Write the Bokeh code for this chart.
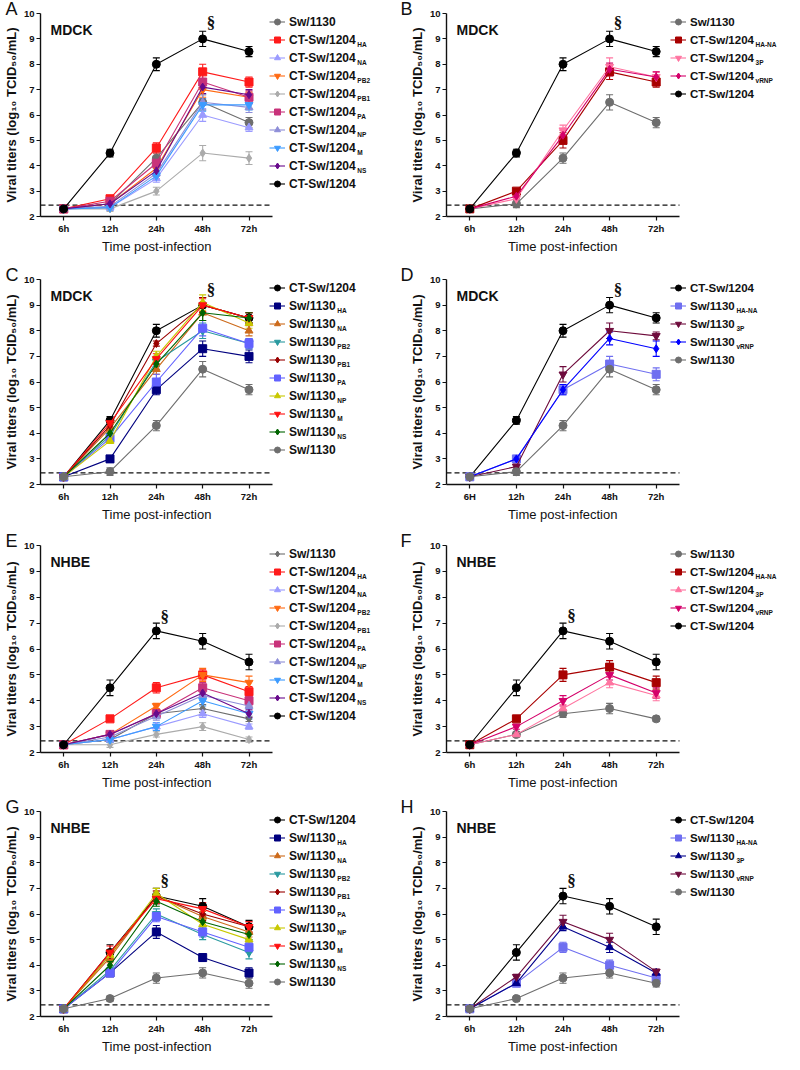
from bokeh.plotting import figure
from bokeh.models import (Legend, LegendItem, Label, Whisker, TeeHead, Title,
                          ColumnDataSource, FixedTicker)
from bokeh.layouts import column, row
from bokeh.embed import file_html
from bokeh.resources import INLINE

# ---------------- data ----------------
times = ["6h", "12h", "24h", "48h", "72h"]
times_D = ["6H", "12h", "24h", "48h", "72h"]
y_ticks = [2, 3, 4, 5, 6, 7, 8, 9, 10]
detection_limit = 2.45

# Panel A (MDCK, single-gene CT-Sw/1204 reassortants)
A_base = ["Sw/1130", "CT-Sw/1204", "CT-Sw/1204", "CT-Sw/1204", "CT-Sw/1204",
          "CT-Sw/1204", "CT-Sw/1204", "CT-Sw/1204", "CT-Sw/1204", "CT-Sw/1204"]
A_sub = ["", "HA", "NA", "PB2", "PB1", "PA", "NP", "M", "NS", ""]
A_values = [[2.3, 2.5, 4.3, 6.5, 5.7],
            [2.3, 2.7, 4.7, 7.7, 7.3],
            [2.3, 2.35, 3.5, 6.0, 5.5],
            [2.3, 2.5, 3.9, 7.0, 6.7],
            [2.3, 2.3, 3.0, 4.5, 4.3],
            [2.3, 2.6, 4.1, 7.3, 6.7],
            [2.3, 2.4, 3.7, 6.5, 6.3],
            [2.3, 2.35, 3.6, 6.4, 6.4],
            [2.3, 2.5, 3.8, 7.1, 6.8],
            [2.3, 4.5, 8.0, 9.0, 8.5]]
A_errors = [[0.05, 0.15, 0.2, 0.3, 0.2],
            [0.05, 0.1, 0.2, 0.3, 0.2],
            [0.05, 0.1, 0.15, 0.25, 0.15],
            [0.05, 0.1, 0.2, 0.3, 0.2],
            [0.05, 0.1, 0.15, 0.3, 0.25],
            [0.05, 0.1, 0.2, 0.3, 0.25],
            [0.05, 0.1, 0.2, 0.3, 0.2],
            [0.05, 0.1, 0.15, 0.25, 0.2],
            [0.05, 0.1, 0.2, 0.25, 0.2],
            [0.05, 0.15, 0.25, 0.3, 0.2]]

# Panel B (MDCK, multi-gene CT-Sw/1204 reassortants)
B_base = ["Sw/1130", "CT-Sw/1204", "CT-Sw/1204", "CT-Sw/1204", "CT-Sw/1204"]
B_sub = ["", "HA-NA", "3P", "vRNP", ""]
B_values = [[2.3, 2.5, 4.3, 6.5, 5.7],
            [2.3, 3.0, 5.0, 7.7, 7.3],
            [2.3, 2.7, 5.4, 7.9, 7.5],
            [2.3, 2.8, 5.2, 7.8, 7.5],
            [2.3, 4.5, 8.0, 9.0, 8.5]]
B_errors = [[0.05, 0.15, 0.2, 0.3, 0.2],
            [0.05, 0.1, 0.3, 0.3, 0.2],
            [0.05, 0.1, 0.2, 0.35, 0.2],
            [0.05, 0.1, 0.2, 0.25, 0.2],
            [0.05, 0.15, 0.25, 0.3, 0.2]]

# Panel C (MDCK, single-gene Sw/1130 reassortants)
C_base = ["CT-Sw/1204", "Sw/1130", "Sw/1130", "Sw/1130", "Sw/1130",
          "Sw/1130", "Sw/1130", "Sw/1130", "Sw/1130", "Sw/1130"]
C_sub = ["", "HA", "NA", "PB2", "PB1", "PA", "NP", "M", "NS", ""]
C_values = [[2.3, 4.5, 8.0, 9.0, 8.5],
            [2.3, 3.0, 5.7, 7.3, 7.0],
            [2.3, 4.2, 6.5, 8.7, 8.0],
            [2.3, 3.9, 6.8, 8.0, 7.5],
            [2.3, 4.3, 7.5, 9.0, 8.5],
            [2.3, 3.8, 6.0, 8.1, 7.5],
            [2.3, 3.7, 7.0, 9.1, 8.3],
            [2.3, 4.4, 6.9, 9.0, 8.5],
            [2.3, 4.0, 6.7, 8.7, 8.5],
            [2.3, 2.5, 4.3, 6.5, 5.7]]
C_errors = [[0.05, 0.15, 0.25, 0.3, 0.2],
            [0.05, 0.1, 0.2, 0.3, 0.25],
            [0.05, 0.15, 0.2, 0.3, 0.2],
            [0.05, 0.1, 0.2, 0.3, 0.2],
            [0.05, 0.1, 0.1, 0.3, 0.2],
            [0.05, 0.1, 0.3, 0.3, 0.2],
            [0.05, 0.1, 0.2, 0.3, 0.2],
            [0.05, 0.15, 0.2, 0.25, 0.2],
            [0.05, 0.1, 0.2, 0.3, 0.2],
            [0.05, 0.15, 0.2, 0.3, 0.2]]

# Panel D (MDCK, multi-gene Sw/1130 reassortants)
D_base = ["CT-Sw/1204", "Sw/1130", "Sw/1130", "Sw/1130", "Sw/1130"]
D_sub = ["", "HA-NA", "3P", "vRNP", ""]
D_values = [[2.3, 4.5, 8.0, 9.0, 8.5],
            [2.3, 3.0, 5.7, 6.7, 6.3],
            [2.3, 2.7, 6.3, 8.0, 7.8],
            [2.3, 3.0, 5.7, 7.7, 7.3],
            [2.3, 2.5, 4.3, 6.5, 5.7]]
D_errors = [[0.05, 0.15, 0.25, 0.3, 0.2],
            [0.05, 0.1, 0.2, 0.3, 0.25],
            [0.05, 0.1, 0.3, 0.3, 0.15],
            [0.05, 0.1, 0.2, 0.25, 0.3],
            [0.05, 0.15, 0.2, 0.3, 0.2]]

# Panel E (NHBE, single-gene CT-Sw/1204 reassortants)
E_base = A_base
E_sub = A_sub
E_values = [[2.3, 2.5, 3.5, 3.7, 3.3],
            [2.3, 3.3, 4.5, 5.0, 4.35],
            [2.3, 2.5, 3.0, 3.5, 3.0],
            [2.3, 2.7, 3.8, 5.0, 4.7],
            [2.3, 2.3, 2.7, 3.0, 2.5],
            [2.3, 2.7, 3.5, 4.5, 4.0],
            [2.3, 2.6, 3.4, 4.2, 3.8],
            [2.3, 2.5, 3.0, 4.0, 3.5],
            [2.3, 2.7, 3.5, 4.3, 3.5],
            [2.3, 4.5, 6.7, 6.3, 5.5]]
E_errors = [[0.05, 0.1, 0.15, 0.15, 0.1],
            [0.05, 0.1, 0.2, 0.2, 0.2],
            [0.05, 0.1, 0.15, 0.15, 0.1],
            [0.05, 0.1, 0.1, 0.25, 0.25],
            [0.05, 0.1, 0.1, 0.15, 0.1],
            [0.05, 0.1, 0.15, 0.2, 0.2],
            [0.05, 0.1, 0.15, 0.2, 0.2],
            [0.05, 0.1, 0.15, 0.2, 0.2],
            [0.05, 0.1, 0.15, 0.2, 0.15],
            [0.05, 0.3, 0.3, 0.3, 0.3]]

# Panel F (NHBE, multi-gene CT-Sw/1204 reassortants)
F_base = B_base
F_sub = B_sub
F_values = [[2.3, 2.7, 3.5, 3.7, 3.3],
            [2.3, 3.3, 5.0, 5.3, 4.7],
            [2.3, 2.7, 3.7, 4.7, 4.2],
            [2.3, 3.0, 4.0, 5.0, 4.3],
            [2.3, 4.5, 6.7, 6.3, 5.5]]
F_errors = [[0.05, 0.1, 0.15, 0.2, 0.1],
            [0.05, 0.1, 0.25, 0.25, 0.25],
            [0.05, 0.1, 0.15, 0.2, 0.2],
            [0.05, 0.1, 0.2, 0.2, 0.2],
            [0.05, 0.3, 0.3, 0.3, 0.3]]

# Panel G (NHBE, single-gene Sw/1130 reassortants)
G_base = C_base
G_sub = C_sub
G_values = [[2.3, 4.5, 6.7, 6.3, 5.5],
            [2.3, 3.7, 5.3, 4.3, 3.7],
            [2.3, 4.3, 6.7, 5.9, 5.3],
            [2.3, 3.8, 6.0, 5.2, 4.5],
            [2.3, 4.4, 6.7, 6.0, 5.5],
            [2.3, 3.7, 5.9, 5.3, 4.7],
            [2.3, 4.4, 6.8, 5.6, 5.0],
            [2.3, 4.5, 6.6, 6.2, 5.5],
            [2.3, 4.0, 6.5, 5.7, 5.2],
            [2.3, 2.7, 3.5, 3.7, 3.3]]
G_errors = [[0.05, 0.3, 0.3, 0.3, 0.25],
            [0.05, 0.1, 0.25, 0.15, 0.2],
            [0.05, 0.2, 0.2, 0.2, 0.2],
            [0.05, 0.1, 0.2, 0.2, 0.25],
            [0.05, 0.2, 0.2, 0.25, 0.2],
            [0.05, 0.1, 0.2, 0.2, 0.2],
            [0.05, 0.2, 0.2, 0.2, 0.2],
            [0.05, 0.25, 0.2, 0.25, 0.2],
            [0.05, 0.15, 0.2, 0.2, 0.2],
            [0.05, 0.1, 0.2, 0.2, 0.2]]

# Panel H (NHBE, multi-gene Sw/1130 reassortants)
H_base = D_base
H_sub = D_sub
H_values = [[2.3, 4.5, 6.7, 6.3, 5.5],
            [2.3, 3.3, 4.7, 4.0, 3.5],
            [2.3, 3.3, 5.5, 4.7, 3.7],
            [2.3, 3.55, 5.7, 5.0, 3.75],
            [2.3, 2.7, 3.5, 3.7, 3.3]]
H_errors = [[0.05, 0.3, 0.3, 0.3, 0.3],
            [0.05, 0.1, 0.2, 0.2, 0.15],
            [0.05, 0.1, 0.15, 0.2, 0.1],
            [0.05, 0.1, 0.25, 0.25, 0.1],
            [0.05, 0.1, 0.2, 0.2, 0.15]]

panel_letters = ["A", "B", "C", "D", "E", "F", "G", "H"]
cell_types = ["MDCK", "MDCK", "MDCK", "MDCK", "NHBE", "NHBE", "NHBE", "NHBE"]
peak_time_index = [4, 4, 4, 4, 3, 3, 3, 3]   # x position of the § mark
peak_mark_value = [9.65, 9.65, 9.6, 9.6, 7.25, 7.3, 7.3, 7.3]
x_title = "Time post-infection"
y_title = "Viral titers (log\u2081\u2080 TCID\u2085\u2080/mL)"

# ---------------- styles ----------------
GREY = "#6e6e6e"
A_colors = [GREY, "#ff1a1a", "#9b9bff", "#ff6a13", "#ababab", "#c8327a",
            "#8e8ed8", "#3d9bff", "#680a8c", "#000000"]
A_markers = ["circle", "square", "triangle", "inverted_triangle", "diamond",
             "square", "triangle", "inverted_triangle", "diamond", "circle"]
E_markers = ["diamond", "square", "triangle", "inverted_triangle", "diamond",
             "square", "triangle", "inverted_triangle", "diamond", "circle"]
B_colors = [GREY, "#a80000", "#ff74a0", "#d4006a", "#000000"]
B_markers = ["circle", "square", "inverted_triangle", "diamond", "circle"]
F_markers = ["circle", "square", "triangle", "inverted_triangle", "circle"]
C_colors = ["#000000", "#00007f", "#cc6a1a", "#2a9aa0", "#990000", "#6262ff",
            "#c8c800", "#ff1010", "#006400", GREY]
C_markers = ["circle", "square", "triangle", "inverted_triangle", "diamond",
             "square", "triangle", "inverted_triangle", "diamond", "circle"]
D_colors = ["#000000", "#6f6ff0", "#6e0b3c", "#0000ff", GREY]
D_markers = ["circle", "square", "inverted_triangle", "diamond", "circle"]
H_colors = ["#000000", "#6f6ff0", "#00008b", "#6e0b3c", GREY]
H_markers = ["circle", "square", "triangle", "inverted_triangle", "circle"]

FONT = "Liberation Sans"
FIG_W = 392
PLOT_W = 233           # width of the 6h..72h axis span in px
X_LO, X_HI = 0.5, 5.5  # axis extent in data units
ROW_H = [266, 263, 263, 262]
BORDER_TOP = [13, 13, 16, 19]
FRAME_H = [203, 205, 207, 205]

# Arial advance widths (per 1000 em) for text measurement
BOLD_W = {"C": 722, "T": 611, "-": 333, "S": 667, "w": 778, "/": 278, " ": 278}
for d in "0123456789":
    BOLD_W[d] = 556
REG_W = {"T": 611, "i": 222, "m": 833, "e": 556, " ": 278, "p": 556, "o": 556,
         "s": 500, "t": 278, "-": 333, "n": 556, "f": 278, "c": 500}

GLYPH_W = 16
STANDOFF = 4
ITEM_H = 15
SPACING = 3


def text_width(s, size, table):
    return sum(table.get(ch, 600) for ch in s) * size / 1000.0


def make_panel(k, base, subs, values, errors, colors, markers, xlabels):
    r = k // 2
    left_col = (k % 2 == 0)
    bl = 38 if left_col else 54
    frame_w = FIG_W - bl
    fh = FRAME_H[r]
    bt = BORDER_TOP[r]
    bb = ROW_H[r] - bt - fh
    x_end = X_LO + (X_HI - X_LO) * frame_w / PLOT_W
    p = figure(width=FIG_W, height=ROW_H[r], x_range=(X_LO, x_end), y_range=(2, 10),
               output_backend="svg", toolbar_location=None,
               min_border_left=bl, min_border_right=0,
               min_border_top=bt, min_border_bottom=bb)
    p.grid.visible = False
    p.outline_line_color = None
    p.background_fill_color = "white"

    # panel letter as the figure title, pulled down beside the y axis
    p.title.text = panel_letters[k]
    p.title.align = "left"
    p.title.offset = -bl + (3 if left_col else 8)
    p.title.standoff = -10
    p.title.text_font = FONT
    p.title.text_font_size = "18px"
    p.title.text_font_style = "normal"
    p.title.text_color = "#111111"

    # axes
    for ax in (p.xaxis[0], p.yaxis[0]):
        ax.axis_line_width = 1.4
        ax.axis_line_color = "#111111"
        ax.major_tick_line_color = "#111111"
        ax.major_tick_line_width = 1.2
        ax.major_tick_in = 0
        ax.major_tick_out = 4
        ax.minor_tick_line_color = None
        ax.major_label_text_font = FONT
        ax.major_label_text_font_style = "bold"
        ax.major_label_text_font_size = "9.5px"
        ax.major_label_text_color = "#111111"
        ax.major_label_standoff = 2
        ax.axis_label_text_font = FONT
        ax.axis_label_text_color = "#111111"
        ax.axis_label_standoff = 2
    p.xaxis.bounds = (X_LO, X_HI)
    p.xaxis.ticker = FixedTicker(ticks=[1, 2, 3, 4, 5])
    p.xaxis.major_label_overrides = {i + 1: t for i, t in enumerate(xlabels)}
    p.yaxis.ticker = FixedTicker(ticks=y_ticks)
    p.yaxis.axis_label = y_title
    p.yaxis.axis_label_text_font_style = "bold"
    p.yaxis.axis_label_text_font_size = "13px"

    # x-axis title, centred under the 6h..72h axis span
    xt_w = text_width(x_title, 13, REG_W)
    p.add_layout(Title(text=x_title, align="left", offset=PLOT_W / 2 - xt_w / 2,
                       standoff=1, text_font=FONT, text_font_size="13px",
                       text_font_style="normal", text_color="#111111"), "below")

    # detection limit (dashed), across the axis extent
    p.segment(x0=[X_LO], x1=[X_HI], y0=[detection_limit], y1=[detection_limit],
              line_color="#111111", line_dash="5 3", line_width=1.3)

    items = []
    for i in range(len(values)):
        c = colors[i]
        vals = values[i]
        errs = errors[i]
        src = ColumnDataSource(dict(
            x=[1, 2, 3, 4, 5], y=vals,
            upper=[v + e for v, e in zip(vals, errs)],
            lower=[v - e for v, e in zip(vals, errs)]))
        lr = p.line("x", "y", source=src, line_color=c, line_width=1.1)
        sr = p.scatter("x", "y", source=src, marker=markers[i], size=8,
                       fill_color=c, line_color=c)
        p.add_layout(Whisker(source=src, base="x", upper="upper", lower="lower",
                             line_color=c, line_width=1.1,
                             upper_head=TeeHead(size=7, line_color=c, line_width=1.1),
                             lower_head=TeeHead(size=7, line_color=c, line_width=1.1)))
        items.append(LegendItem(label=base[i], renderers=[lr, sr]))

    n = len(items)
    leg_font = 12 if n > 5 else 11.5
    leg_h = n * ITEM_H + (n - 1) * SPACING
    top_off = 1
    vx = PLOT_W - (4 if left_col else 9)
    vy = fh - top_off - leg_h
    legend = Legend(items=items, location=(vx, vy), orientation="vertical",
                    padding=0, margin=0, spacing=SPACING,
                    glyph_width=GLYPH_W, glyph_height=ITEM_H, label_height=ITEM_H,
                    label_standoff=STANDOFF,
                    label_text_font=FONT, label_text_font_size=f"{leg_font}px",
                    label_text_font_style="bold", label_text_color="#111111",
                    border_line_color=None, background_fill_alpha=0)
    p.add_layout(legend)

    # subscripts of the legend labels
    for i in range(n):
        if subs[i]:
            sx = vx + GLYPH_W + STANDOFF + text_width(base[i], leg_font, BOLD_W) + 0.5
            sy = fh - top_off - i * (ITEM_H + SPACING) - ITEM_H / 2 - 4
            p.add_layout(Label(x=sx, y=sy, x_units="screen", y_units="screen",
                               text=subs[i], text_font=FONT, text_font_size="6.5px",
                               text_font_style="bold", text_color="#111111",
                               text_baseline="middle", text_align="left"))

    # cell type
    p.add_layout(Label(x=10, y=fh - 16, x_units="screen", y_units="screen",
                       text=cell_types[k], text_font=FONT, text_font_size="14px",
                       text_font_style="bold", text_color="#111111",
                       text_baseline="middle"))
    # significance mark
    p.add_layout(Label(x=peak_time_index[k] + 0.18, y=peak_mark_value[k],
                       text="\u00a7", text_font="Liberation Serif",
                       text_font_size="17px", text_font_style="bold",
                       text_color="#111111", text_align="center",
                       text_baseline="middle"))
    return p


pA = make_panel(0, A_base, A_sub, A_values, A_errors, A_colors, A_markers, times)
pB = make_panel(1, B_base, B_sub, B_values, B_errors, B_colors, B_markers, times)
pC = make_panel(2, C_base, C_sub, C_values, C_errors, C_colors, C_markers, times)
pD = make_panel(3, D_base, D_sub, D_values, D_errors, D_colors, D_markers, times_D)
pE = make_panel(4, E_base, E_sub, E_values, E_errors, A_colors, E_markers, times)
pF = make_panel(5, F_base, F_sub, F_values, F_errors, B_colors, F_markers, times)
pG = make_panel(6, G_base, G_sub, G_values, G_errors, C_colors, C_markers, times)
pH = make_panel(7, H_base, H_sub, H_values, H_errors, H_colors, H_markers, times)

layout = column(row(pA, pB), row(pC, pD), row(pE, pF), row(pG, pH))
open("out.html", "w").write(file_html(layout, INLINE))
